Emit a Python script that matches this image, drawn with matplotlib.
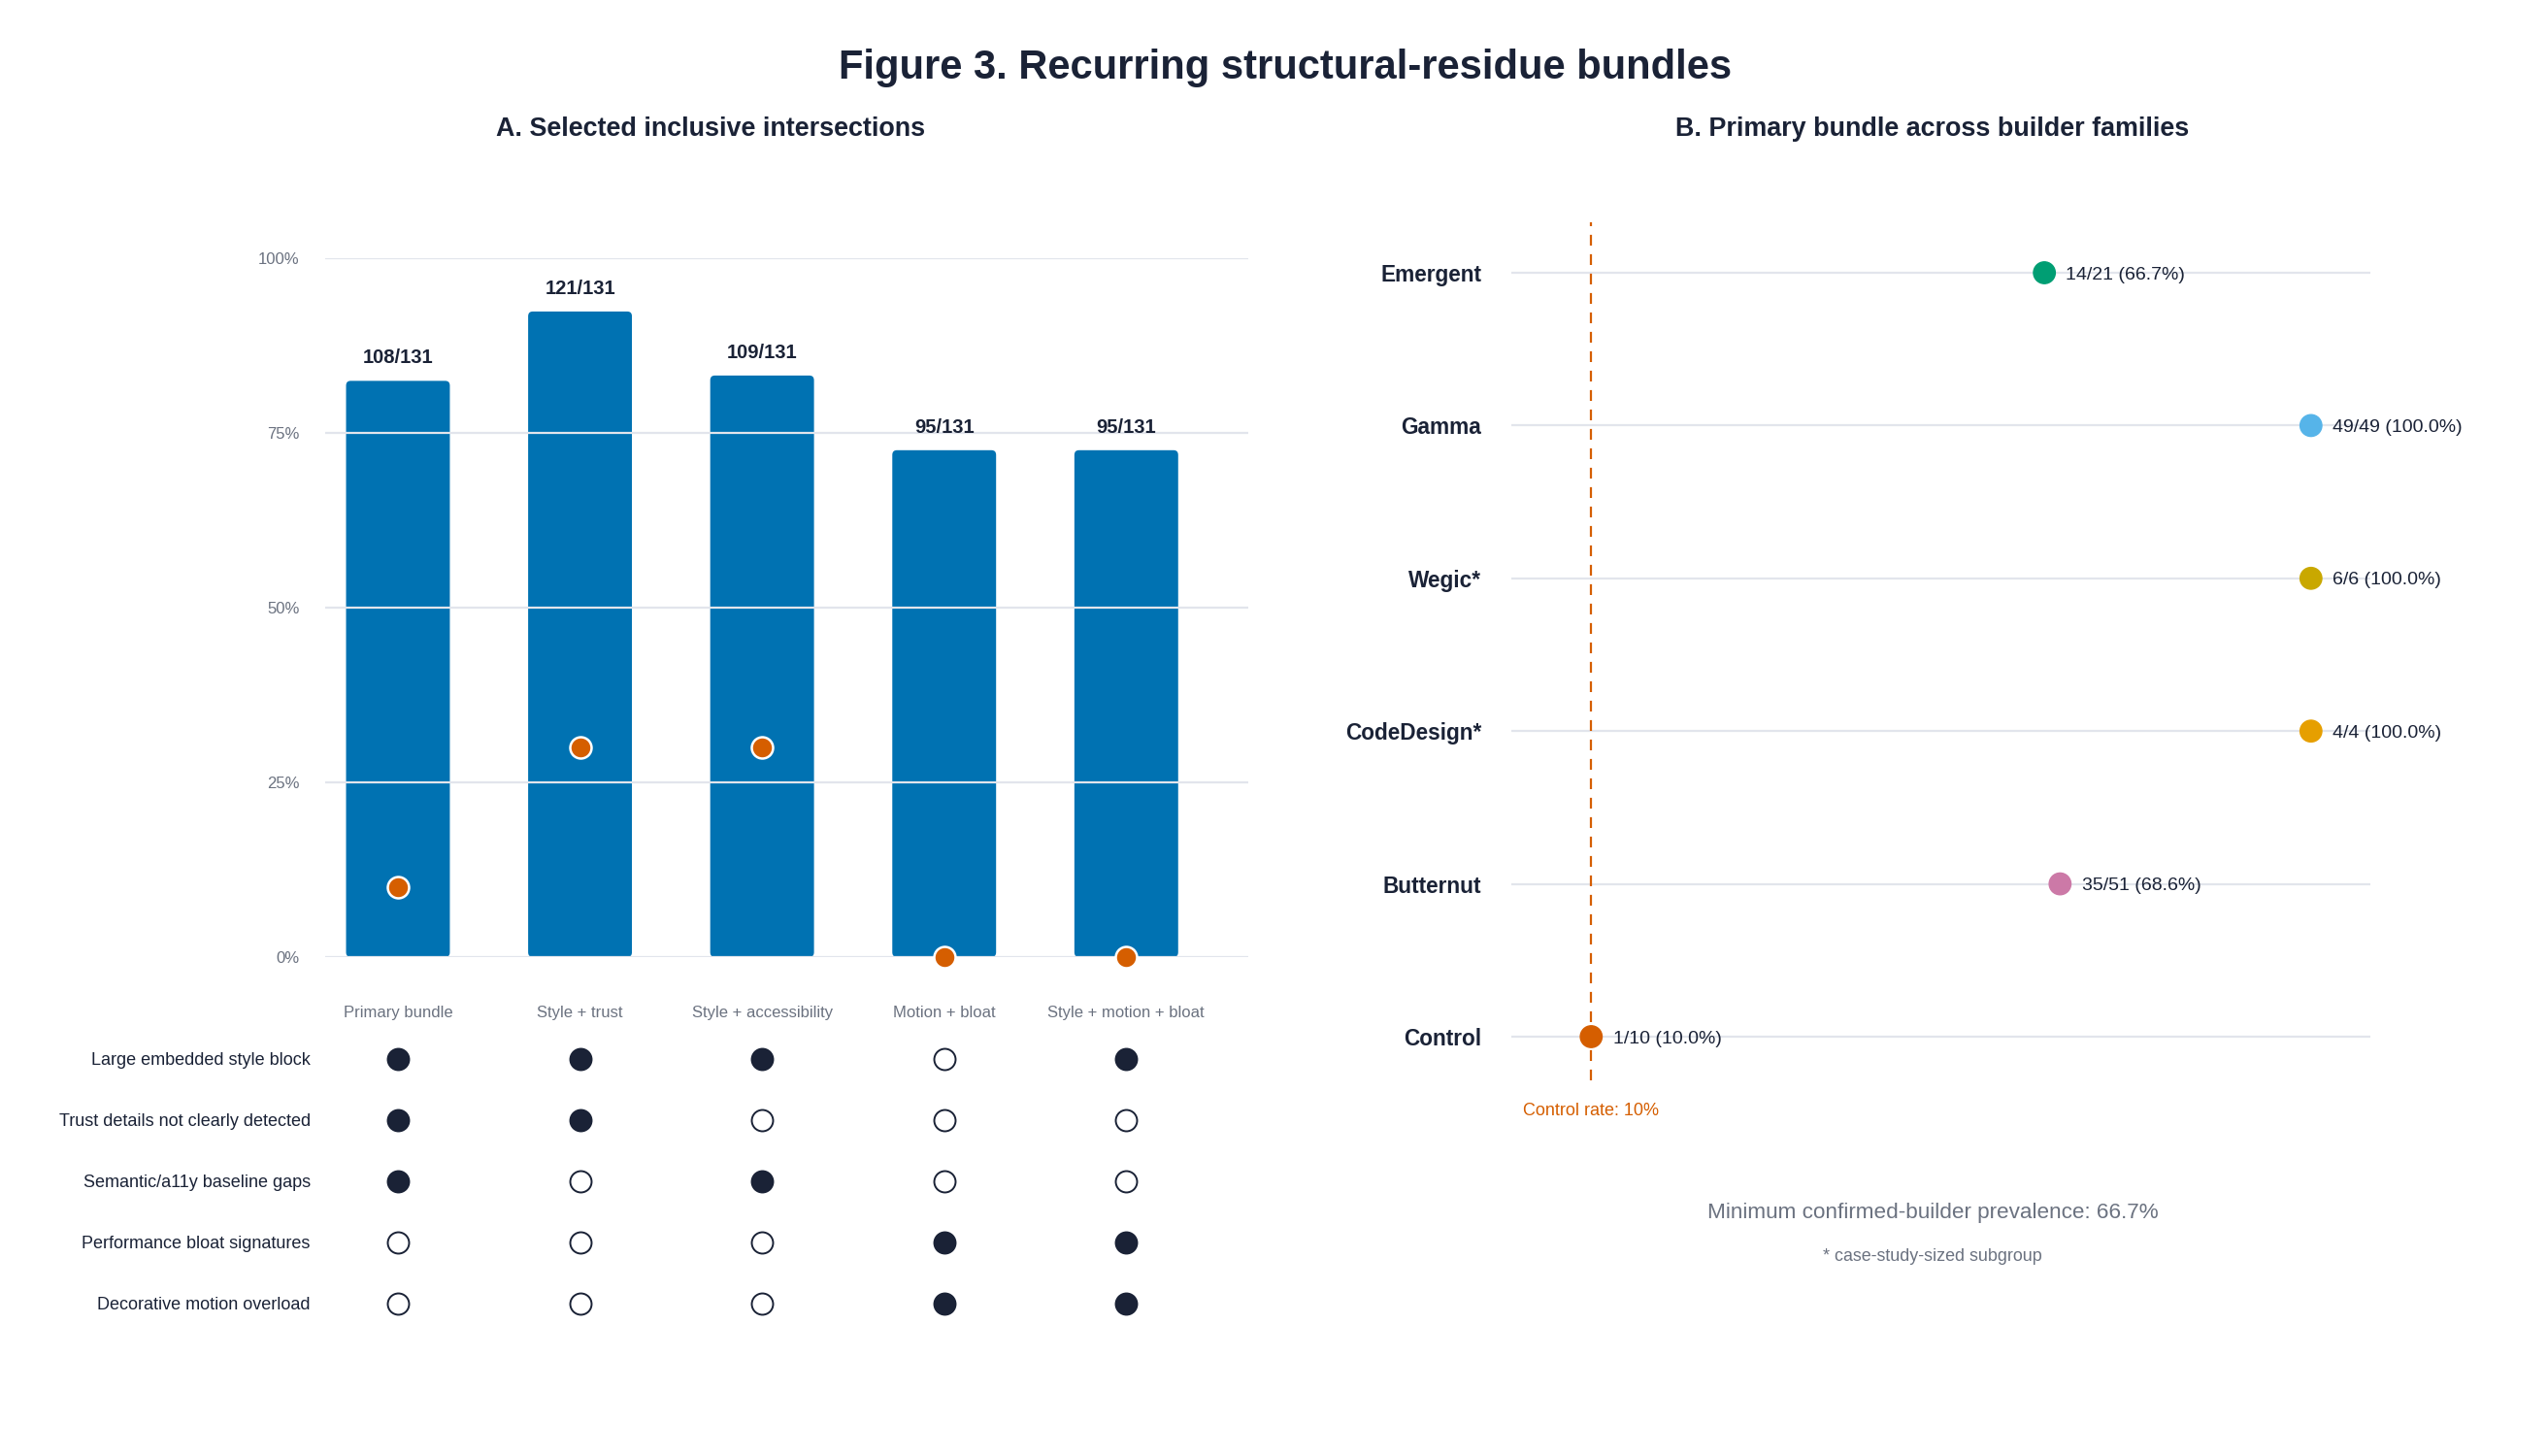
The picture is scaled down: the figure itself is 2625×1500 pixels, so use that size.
import matplotlib
matplotlib.use("Agg")
import matplotlib.pyplot as plt
import matplotlib.transforms as mtransforms
from matplotlib.patches import FancyBboxPatch

plt.rcParams["font.family"] = ["Liberation Sans", "DejaVu Sans"]

DARK = "#1a2236"
GRAY = "#6b7280"
GRID = "#e2e5ec"
BLUE = "#0072B2"
ORANGE = "#D55E00"

# Panel A data
combos = ["Primary bundle", "Style + trust", "Style + accessibility",
          "Motion + bloat", "Style + motion + bloat"]
builder_hits = [108, 121, 109, 95, 95]
builder_total = 131
control_rates = [0.10, 0.30, 0.30, 0.0, 0.0]

features = ["Large embedded style block", "Trust details not clearly detected",
            "Semantic/a11y baseline gaps", "Performance bloat signatures",
            "Decorative motion overload"]
# membership[feature][combo]
membership = [
    [1, 1, 1, 0, 1],
    [1, 1, 0, 0, 0],
    [1, 0, 1, 0, 0],
    [0, 0, 0, 1, 1],
    [0, 0, 0, 1, 1],
]

# Panel B data
families = ["Emergent", "Gamma", "Wegic*", "CodeDesign*", "Butternut", "Control"]
family_hits = [14, 49, 6, 4, 35, 1]
family_totals = [21, 49, 6, 4, 51, 10]
family_colors = ["#009E73", "#56B4E9", "#C9A800", "#E69F00", "#CC79A7", "#D55E00"]
control_rate = 0.10

fig = plt.figure(figsize=(26.25, 15), dpi=100)

fig.text(0.5044, 0.9535, "Figure 3. Recurring structural-residue bundles",
         ha="center", va="center", fontsize=30, fontweight="bold", color=DARK)
fig.text(0.2789, 0.9115, "A. Selected inclusive intersections",
         ha="center", va="center", fontsize=19.4, fontweight="bold", color=DARK)
fig.text(0.7585, 0.9115, "B. Primary bundle across builder families",
         ha="center", va="center", fontsize=19.4, fontweight="bold", color=DARK)

# ---- Panel A: bars (rounded corners)
ax = fig.add_axes([0.1276, 0.3427, 0.3623, 0.48])
x = list(range(len(combos)))
shares = [h / builder_total for h in builder_hits]
bars = ax.bar(x, shares, width=0.57, color=BLUE, zorder=1)
for b in bars:
    rounded = FancyBboxPatch((b.get_x(), b.get_y()), b.get_width(), b.get_height(),
                             boxstyle="round,pad=0,rounding_size=0.025",
                             mutation_aspect=0.27, facecolor=BLUE,
                             edgecolor="none", zorder=1)
    b.remove()
    ax.add_patch(rounded)
ax.scatter(x, control_rates, s=250, color=ORANGE, edgecolor="white",
           linewidth=1.8, zorder=4, clip_on=False)
for xi, s, h in zip(x, shares, builder_hits):
    ax.annotate(f"{h}/{builder_total}", (xi, s), xytext=(0, 17),
                textcoords="offset points", ha="center", va="center",
                fontsize=14.5, fontweight="bold", color=DARK)

ax.set_xlim(-0.4, 4.67)
ax.set_ylim(0, 1)
ax.set_yticks([0, 0.25, 0.5, 0.75, 1.0])
ax.set_yticklabels(["0%", "25%", "50%", "75%", "100%"])
ax.set_xticks(x)
ax.set_xticklabels(combos)
ax.tick_params(axis="y", length=0, pad=19, labelsize=12, labelcolor=GRAY)
ax.tick_params(axis="x", length=0, pad=36, labelsize=12, labelcolor=GRAY)
ax.grid(axis="y", color=GRID, linewidth=1.6)
ax.set_axisbelow(False)
for sp in ax.spines.values():
    sp.set_visible(False)

# ---- Panel A: membership matrix
mx = fig.add_axes([0.1276, 0.0837, 0.3623, 0.21])
for r, row in enumerate(membership):
    for c, on in enumerate(row):
        mx.scatter(c, r, s=250, color=DARK if on else "white",
                   edgecolor=DARK, linewidth=1.4, zorder=3)
mx.set_xlim(-0.4, 4.67)
mx.set_ylim(4.5, -0.5)
mx.set_xticks([])
mx.set_yticks(range(len(features)))
mx.set_yticklabels(features)
mx.tick_params(axis="y", length=0, pad=11, labelsize=13, labelcolor=DARK)
for sp in mx.spines.values():
    sp.set_visible(False)

# ---- Panel B: dot plot
bx = fig.add_axes([0.5931, 0.258, 0.3371, 0.5893])
rates = [h / t for h, t in zip(family_hits, family_totals)]
y = list(range(len(families)))
bx.axvline(control_rate, color=ORANGE, linestyle=(0, (5, 4)), linewidth=1.6, zorder=2)
bx.scatter(rates, y, s=260, c=family_colors, zorder=4, clip_on=False)
for yi, r, h, t in zip(y, rates, family_hits, family_totals):
    bx.annotate(f"{h}/{t} ({r * 100:.1f}%)", (r, yi), xytext=(16, -1.5),
                textcoords="offset points", ha="left", va="center",
                fontsize=14, color=DARK, zorder=5)
bx.set_xlim(0, 1.074)
bx.set_ylim(5.286, -0.33)
bx.set_yticks(y)
bx.set_yticklabels(families)
bx.set_xticks([])
bx.tick_params(axis="y", length=0, pad=22, labelsize=16.3, labelcolor=DARK)
for lbl in bx.get_yticklabels():
    lbl.set_fontweight("bold")
bx.grid(axis="y", color=GRID, linewidth=1.6, zorder=1)
bx.set_axisbelow(True)
for sp in bx.spines.values():
    sp.set_visible(False)

trans = mtransforms.blended_transform_factory(bx.transData, bx.transAxes)
bx.text(control_rate, -0.036, "Control rate: 10%", transform=trans,
        ha="center", va="center", fontsize=13, color=ORANGE)

fig.text(0.7585, 0.1673, "Minimum confirmed-builder prevalence: 66.7%",
         ha="center", va="center", fontsize=16.2, color=GRAY)
fig.text(0.7585, 0.1373, "* case-study-sized subgroup",
         ha="center", va="center", fontsize=12.9, color=GRAY)

fig.savefig("out.png", dpi=100, facecolor="white")
